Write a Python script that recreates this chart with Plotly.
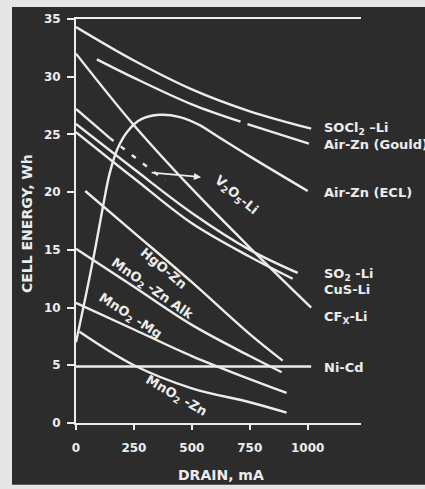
import plotly.graph_objects as go

# ---- data ----
socl2_x = [0, 250, 500, 750, 1015]
socl2_y = [34.3, 31.4, 28.9, 27.0, 25.5]

gould_x = [90, 250, 500, 710, None, 740, 1005]
gould_y = [31.5, 29.9, 27.6, 26.1, None, 25.9, 24.2]

ecl_x = [0, 40, 80, 115, 145, 180, 224, 280, 362, 448, 534, 590, 750, 1000]
ecl_y = [7.0, 10.8, 14.8, 18.6, 21.6, 23.8, 25.3, 26.3, 26.7, 26.5, 25.8, 25.1, 23.1, 20.1]

v2o5_x = [0, 145, 385]
v2o5_y = [27.2, 24.7, 21.0]

so2_x = [0, 250, 500, 750, 957]
so2_y = [25.9, 22.0, 18.2, 15.0, 13.0]

cus_x = [0, 250, 500, 750, 935]
cus_y = [25.2, 21.2, 17.3, 14.4, 12.5]

cfx_x = [0, 250, 500, 750, 1015]
cfx_y = [32.0, 25.8, 20.3, 15.2, 10.0]

hgo_x = [40, 250, 500, 750, 892]
hgo_y = [20.1, 16.5, 12.2, 7.7, 5.4]

alk_x = [0, 250, 500, 750, 888]
alk_y = [15.1, 11.8, 8.5, 5.8, 4.4]

mg_x = [0, 250, 500, 750, 909]
mg_y = [10.4, 8.1, 5.8, 3.8, 2.6]

mnzn_x = [15, 250, 500, 750, 909]
mnzn_y = [7.9, 5.0, 3.0, 1.8, 0.9]

nicd_x = [0, 1015]
nicd_y = [4.9, 4.9]

x_ticks = [0, 250, 500, 750, 1000]
y_ticks = [0, 5, 10, 15, 20, 25, 30, 35]

# ---- style ----
BG = "#2c2c2c"
PAPER = "#e6e6e6"
LINE = "#ececec"
FONT = "DejaVu Sans"

fig = go.Figure()


def add(x, y, dash=None):
    fig.add_trace(go.Scatter(
        x=x, y=y, mode="lines", connectgaps=False,
        line=dict(color=LINE, width=2.4, shape="spline", smoothing=1.0, dash=dash),
        hoverinfo="skip", showlegend=False))


add(socl2_x, socl2_y)
add(gould_x, gould_y)
add(ecl_x, ecl_y)
add(v2o5_x[:2], v2o5_y[:2])
add(v2o5_x[1:], v2o5_y[1:], dash="5px,9px")
add(so2_x, so2_y)
add(cus_x, cus_y)
add(cfx_x, cfx_y)
add(hgo_x, hgo_y)
add(alk_x, alk_y)
add(mg_x, mg_y)
add(mnzn_x, mnzn_y)
add(nicd_x, nicd_y)

# dark panel of the photographed page
fig.add_shape(type="rect", xref="paper", yref="paper",
              x0=-0.2246, x1=1.25, y0=-0.1527, y1=1.0296,
              fillcolor=BG, line_width=0, layer="below")

anns = []
# right-hand labels
right = [
    ("SOCl<sub>2</sub> \u2013Li", 25.5),
    ("Air-Zn (Gould)", 24.1),
    ("Air-Zn (ECL)", 20.0),
    ("SO<sub>2</sub> -Li", 12.9),
    ("CuS-Li", 11.6),
    ("CF<sub>X</sub>-Li", 9.1),
    ("Ni-Cd", 4.8),
]
for txt, yy in right:
    anns.append(dict(x=1063, y=yy, xref="x", yref="y", text=txt, showarrow=False,
                     xanchor="left", yanchor="middle",
                     font=dict(family=FONT, size=13, color=LINE, weight="bold")))

# in-plot rotated labels
inside = [
    ("V<sub>2</sub>O<sub>5</sub>-Li", 690, 19.7, 40),
    ("HgO-Zn", 380, 13.4, 40),
    ("MnO<sub>2</sub> -Zn Alk", 330, 11.6, 35),
    ("MnO<sub>2</sub> -Mg", 234, 9.2, 33),
    ("MnO<sub>2</sub> -Zn", 433, 2.3, 30),
]
for txt, xx, yy, ang in inside:
    anns.append(dict(x=xx, y=yy, xref="x", yref="y", text=txt, showarrow=False,
                     textangle=ang, xanchor="center", yanchor="middle",
                     font=dict(family=FONT, size=13, color=LINE, weight="bold")))

# leader from V2O5-Li label to its dashed curve
anns.append(dict(x=540, y=21.3, ax=320, ay=21.7, xref="x", yref="y", axref="x", ayref="y",
                 text="", showarrow=True, arrowhead=2, arrowsize=0.8, arrowwidth=1.8,
                 arrowcolor=LINE))

# axis titles
anns.append(dict(x=-0.172, y=0.495, xref="paper", yref="paper", text="CELL ENERGY, Wh",
                 textangle=-90, showarrow=False, xanchor="center", yanchor="middle",
                 font=dict(family=FONT, size=14, color=LINE, weight="bold")))
anns.append(dict(x=0.509, y=-0.128, xref="paper", yref="paper", text="DRAIN, mA",
                 showarrow=False, xanchor="center", yanchor="middle",
                 font=dict(family=FONT, size=14, color=LINE, weight="bold")))

fig.update_layout(
    width=425, height=489,
    margin=dict(l=76, r=64, t=17, b=66),
    paper_bgcolor=PAPER, plot_bgcolor=BG,
    annotations=anns,
    xaxis=dict(range=[0, 1230], showgrid=False, zeroline=False,
               showline=True, linecolor=LINE, linewidth=2, mirror=True,
               ticks="outside", tickvals=x_ticks, ticklen=5, tickwidth=2, tickcolor=LINE,
               ticklabelstandoff=8,
               tickfont=dict(family=FONT, size=12, color=LINE, weight="bold")),
    yaxis=dict(range=[0, 35], showgrid=False, zeroline=False,
               showline=True, linecolor=LINE, linewidth=2,
               ticks="outside", tickvals=y_ticks, ticklen=7, tickwidth=2, tickcolor=LINE,
               ticklabelstandoff=4,
               tickfont=dict(family=FONT, size=12, color=LINE, weight="bold")),
)

fig.write_html(
    "out.html",
    config={"displayModeBar": False},
    post_script="document.body.style.margin='0';document.body.style.overflow='hidden';",
)
